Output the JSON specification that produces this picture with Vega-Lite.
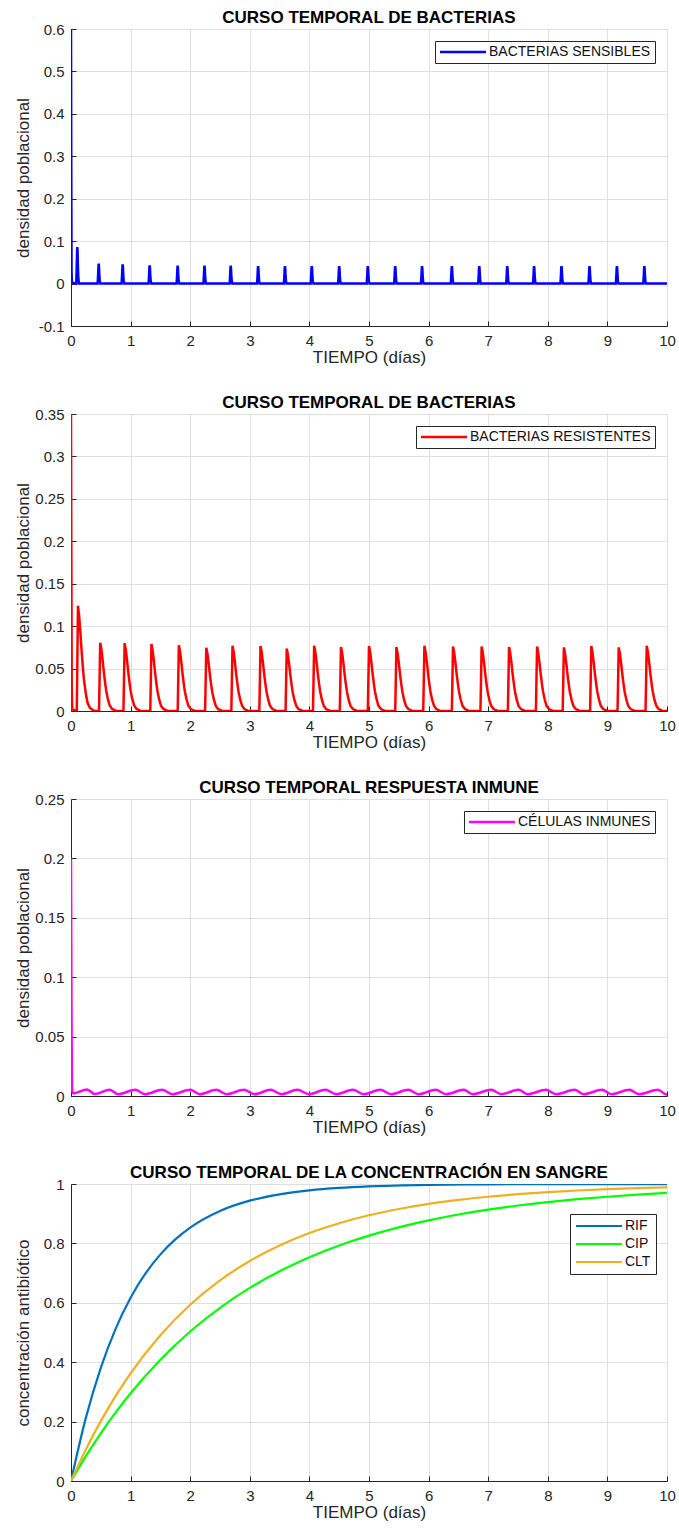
{
"$schema":"https://vega.github.io/schema/vega-lite/v6.json",
"background":"white",
"padding":{"left":14,"top":9,"right":5,"bottom":5},
"columns":1,
"spacing":29,
"config":{
 "font":"Liberation Sans",
 "view":{"stroke":null},
 "axis":{"domainColor":"#262626","domainWidth":1,"tickColor":"#262626","tickSize":-5,"labelPadding":12,"labelColor":"#262626","labelFontSize":15,"labelFont":"Liberation Sans","titleFont":"Liberation Sans","titleFontSize":17,"titleFontWeight":"normal","titleColor":"#262626","titlePadding":1,"gridColor":"#dfdfdf","gridWidth":1,"labelFlush":false,"labelOverlap":false,"labelBound":false},
 "title":{"fontSize":17,"fontWeight":"bold","color":"#000000","font":"Liberation Sans","baseline":"alphabetic","offset":-5,"frame":"group","anchor":"middle"},
 "legend":{"title":null,"fillColor":"white","strokeColor":"#262626","padding":4,"labelFontSize":14,"labelFont":"Liberation Sans","labelColor":"#111111","labelLimit":500,"symbolType":"M-4,0H4","symbolSize":132,"symbolStrokeWidth":2.5,"symbolOffset":17,"labelOffset":19}
},
"resolve":{"scale":{"color":"independent"},"legend":{"color":"independent"}},
"datasets":{
"p1":[{"t":0,"v":0.6},{"t":0.004,"v":0.3},{"t":0.009,"v":0.03},{"t":0.015,"v":0.002},{"t":0.088,"v":0},
{"t":0.096,"v":0.0387},{"t":0.102,"v":0.0774},{"t":0.106,"v":0.086},{"t":0.11,"v":0.0774},{"t":0.116,"v":0.0387},{"t":0.124,"v":0.0103},{"t":0.134,"v":0},
{"t":0.447,"v":0},{"t":0.455,"v":0.0212},{"t":0.461,"v":0.0423},{"t":0.465,"v":0.047},{"t":0.469,"v":0.0423},{"t":0.475,"v":0.0212},{"t":0.483,"v":0.0056},{"t":0.493,"v":0},
{"t":0.849,"v":0},{"t":0.857,"v":0.0203},{"t":0.863,"v":0.0405},{"t":0.867,"v":0.045},{"t":0.871,"v":0.0405},{"t":0.877,"v":0.0203},{"t":0.885,"v":0.0054},{"t":0.895,"v":0},
{"t":1.302,"v":0},{"t":1.31,"v":0.0194},{"t":1.316,"v":0.0387},{"t":1.32,"v":0.043},{"t":1.324,"v":0.0387},{"t":1.33,"v":0.0194},{"t":1.338,"v":0.0052},{"t":1.348,"v":0},
{"t":1.772,"v":0},{"t":1.78,"v":0.0189},{"t":1.786,"v":0.0378},{"t":1.79,"v":0.042},{"t":1.794,"v":0.0378},{"t":1.8,"v":0.0189},{"t":1.808,"v":0.005},{"t":1.818,"v":0},
{"t":2.222,"v":0},{"t":2.23,"v":0.0189},{"t":2.236,"v":0.0378},{"t":2.24,"v":0.042},{"t":2.244,"v":0.0378},{"t":2.25,"v":0.0189},{"t":2.258,"v":0.005},{"t":2.268,"v":0},
{"t":2.662,"v":0},{"t":2.67,"v":0.0189},{"t":2.676,"v":0.0378},{"t":2.68,"v":0.042},{"t":2.684,"v":0.0378},{"t":2.69,"v":0.0189},{"t":2.698,"v":0.005},{"t":2.708,"v":0},
{"t":3.122,"v":0},{"t":3.13,"v":0.0185},{"t":3.136,"v":0.0369},{"t":3.14,"v":0.041},{"t":3.144,"v":0.0369},{"t":3.15,"v":0.0185},{"t":3.158,"v":0.0049},{"t":3.168,"v":0},
{"t":3.572,"v":0},{"t":3.58,"v":0.0185},{"t":3.586,"v":0.0369},{"t":3.59,"v":0.041},{"t":3.594,"v":0.0369},{"t":3.6,"v":0.0185},{"t":3.608,"v":0.0049},{"t":3.618,"v":0},
{"t":4.022,"v":0},{"t":4.03,"v":0.0185},{"t":4.036,"v":0.0369},{"t":4.04,"v":0.041},{"t":4.044,"v":0.0369},{"t":4.05,"v":0.0185},{"t":4.058,"v":0.0049},{"t":4.068,"v":0},
{"t":4.482,"v":0},{"t":4.49,"v":0.0185},{"t":4.496,"v":0.0369},{"t":4.5,"v":0.041},{"t":4.504,"v":0.0369},{"t":4.51,"v":0.0185},{"t":4.518,"v":0.0049},{"t":4.528,"v":0},
{"t":4.962,"v":0},{"t":4.97,"v":0.0185},{"t":4.976,"v":0.0369},{"t":4.98,"v":0.041},{"t":4.984,"v":0.0369},{"t":4.99,"v":0.0185},{"t":4.998,"v":0.0049},{"t":5.008,"v":0},
{"t":5.422,"v":0},{"t":5.43,"v":0.0185},{"t":5.436,"v":0.0369},{"t":5.44,"v":0.041},{"t":5.444,"v":0.0369},{"t":5.45,"v":0.0185},{"t":5.458,"v":0.0049},{"t":5.468,"v":0},
{"t":5.872,"v":0},{"t":5.88,"v":0.0185},{"t":5.886,"v":0.0369},{"t":5.89,"v":0.041},{"t":5.894,"v":0.0369},{"t":5.9,"v":0.0185},{"t":5.908,"v":0.0049},{"t":5.918,"v":0},
{"t":6.372,"v":0},{"t":6.38,"v":0.0185},{"t":6.386,"v":0.0369},{"t":6.39,"v":0.041},{"t":6.394,"v":0.0369},{"t":6.4,"v":0.0185},{"t":6.408,"v":0.0049},{"t":6.418,"v":0},
{"t":6.832,"v":0},{"t":6.84,"v":0.0185},{"t":6.846,"v":0.0369},{"t":6.85,"v":0.041},{"t":6.854,"v":0.0369},{"t":6.86,"v":0.0185},{"t":6.868,"v":0.0049},{"t":6.878,"v":0},
{"t":7.302,"v":0},{"t":7.31,"v":0.0185},{"t":7.316,"v":0.0369},{"t":7.32,"v":0.041},{"t":7.324,"v":0.0369},{"t":7.33,"v":0.0185},{"t":7.338,"v":0.0049},{"t":7.348,"v":0},
{"t":7.752,"v":0},{"t":7.76,"v":0.0185},{"t":7.766,"v":0.0369},{"t":7.77,"v":0.041},{"t":7.774,"v":0.0369},{"t":7.78,"v":0.0185},{"t":7.788,"v":0.0049},{"t":7.798,"v":0},
{"t":8.212,"v":0},{"t":8.22,"v":0.0185},{"t":8.226,"v":0.0369},{"t":8.23,"v":0.041},{"t":8.234,"v":0.0369},{"t":8.24,"v":0.0185},{"t":8.248,"v":0.0049},{"t":8.258,"v":0},
{"t":8.682,"v":0},{"t":8.69,"v":0.0185},{"t":8.696,"v":0.0369},{"t":8.7,"v":0.041},{"t":8.704,"v":0.0369},{"t":8.71,"v":0.0185},{"t":8.718,"v":0.0049},{"t":8.728,"v":0},
{"t":9.142,"v":0},{"t":9.15,"v":0.0185},{"t":9.156,"v":0.0369},{"t":9.16,"v":0.041},{"t":9.164,"v":0.0369},{"t":9.17,"v":0.0185},{"t":9.178,"v":0.0049},{"t":9.188,"v":0},
{"t":9.602,"v":0},{"t":9.61,"v":0.0185},{"t":9.616,"v":0.0369},{"t":9.62,"v":0.041},{"t":9.624,"v":0.0369},{"t":9.63,"v":0.0185},{"t":9.638,"v":0.0049},{"t":9.648,"v":0},
{"t":10,"v":0}],
"p2":[{"t":0,"v":0.35},{"t":0.006,"v":0.18},{"t":0.012,"v":0.03},{"t":0.02,"v":0.002},{"t":0.097,"v":0},
{"t":0.109,"v":0.0744},{"t":0.117,"v":0.124},{"t":0.137,"v":0.1116},{"t":0.157,"v":0.093},{"t":0.177,"v":0.0719},{"t":0.197,"v":0.0533},{"t":0.217,"v":0.0372},{"t":0.247,"v":0.0211},{"t":0.277,"v":0.0099},{"t":0.317,"v":0.0037},{"t":0.377,"v":0.0006},{"t":0.417,"v":0},
{"t":0.47,"v":0},{"t":0.482,"v":0.0483},{"t":0.49,"v":0.0805},{"t":0.51,"v":0.0725},{"t":0.53,"v":0.0604},{"t":0.55,"v":0.0467},{"t":0.57,"v":0.0346},{"t":0.59,"v":0.0242},{"t":0.62,"v":0.0137},{"t":0.65,"v":0.0064},{"t":0.69,"v":0.0024},{"t":0.75,"v":0.0004},{"t":0.79,"v":0},
{"t":0.88,"v":0},{"t":0.892,"v":0.048},{"t":0.9,"v":0.08},{"t":0.92,"v":0.072},{"t":0.94,"v":0.06},{"t":0.96,"v":0.0464},{"t":0.98,"v":0.0344},{"t":1.0,"v":0.024},{"t":1.03,"v":0.0136},{"t":1.06,"v":0.0064},{"t":1.1,"v":0.0024},{"t":1.16,"v":0.0004},{"t":1.2,"v":0},
{"t":1.33,"v":0},{"t":1.342,"v":0.0474},{"t":1.35,"v":0.079},{"t":1.37,"v":0.0711},{"t":1.39,"v":0.0593},{"t":1.41,"v":0.0458},{"t":1.43,"v":0.034},{"t":1.45,"v":0.0237},{"t":1.48,"v":0.0134},{"t":1.51,"v":0.0063},{"t":1.55,"v":0.0024},{"t":1.61,"v":0.0004},{"t":1.65,"v":0},
{"t":1.79,"v":0},{"t":1.802,"v":0.0465},{"t":1.81,"v":0.0775},{"t":1.83,"v":0.0698},{"t":1.85,"v":0.0581},{"t":1.87,"v":0.045},{"t":1.89,"v":0.0333},{"t":1.91,"v":0.0233},{"t":1.94,"v":0.0132},{"t":1.97,"v":0.0062},{"t":2.01,"v":0.0023},{"t":2.07,"v":0.0004},{"t":2.11,"v":0},
{"t":2.25,"v":0},{"t":2.262,"v":0.0447},{"t":2.27,"v":0.0745},{"t":2.29,"v":0.0671},{"t":2.31,"v":0.0559},{"t":2.33,"v":0.0432},{"t":2.35,"v":0.032},{"t":2.37,"v":0.0224},{"t":2.4,"v":0.0127},{"t":2.43,"v":0.006},{"t":2.47,"v":0.0022},{"t":2.53,"v":0.0004},{"t":2.57,"v":0},
{"t":2.69,"v":0},{"t":2.702,"v":0.0462},{"t":2.71,"v":0.077},{"t":2.73,"v":0.0693},{"t":2.75,"v":0.0578},{"t":2.77,"v":0.0447},{"t":2.79,"v":0.0331},{"t":2.81,"v":0.0231},{"t":2.84,"v":0.0131},{"t":2.87,"v":0.0062},{"t":2.91,"v":0.0023},{"t":2.97,"v":0.0004},{"t":3.01,"v":0},
{"t":3.16,"v":0},{"t":3.172,"v":0.0459},{"t":3.18,"v":0.0765},{"t":3.2,"v":0.0689},{"t":3.22,"v":0.0574},{"t":3.24,"v":0.0444},{"t":3.26,"v":0.0329},{"t":3.28,"v":0.023},{"t":3.31,"v":0.013},{"t":3.34,"v":0.0061},{"t":3.38,"v":0.0023},{"t":3.44,"v":0.0004},{"t":3.48,"v":0},
{"t":3.6,"v":0},{"t":3.612,"v":0.0441},{"t":3.62,"v":0.0735},{"t":3.64,"v":0.0662},{"t":3.66,"v":0.0551},{"t":3.68,"v":0.0426},{"t":3.7,"v":0.0316},{"t":3.72,"v":0.0221},{"t":3.75,"v":0.0125},{"t":3.78,"v":0.0059},{"t":3.82,"v":0.0022},{"t":3.88,"v":0.0004},{"t":3.92,"v":0},
{"t":4.06,"v":0},{"t":4.072,"v":0.0462},{"t":4.08,"v":0.077},{"t":4.1,"v":0.0693},{"t":4.12,"v":0.0578},{"t":4.14,"v":0.0447},{"t":4.16,"v":0.0331},{"t":4.18,"v":0.0231},{"t":4.21,"v":0.0131},{"t":4.24,"v":0.0062},{"t":4.28,"v":0.0023},{"t":4.34,"v":0.0004},{"t":4.38,"v":0},
{"t":4.51,"v":0},{"t":4.522,"v":0.0453},{"t":4.53,"v":0.0755},{"t":4.55,"v":0.068},{"t":4.57,"v":0.0566},{"t":4.59,"v":0.0438},{"t":4.61,"v":0.0325},{"t":4.63,"v":0.0227},{"t":4.66,"v":0.0128},{"t":4.69,"v":0.006},{"t":4.73,"v":0.0023},{"t":4.79,"v":0.0004},{"t":4.83,"v":0},
{"t":4.98,"v":0},{"t":4.992,"v":0.0459},{"t":5.0,"v":0.0765},{"t":5.02,"v":0.0689},{"t":5.04,"v":0.0574},{"t":5.06,"v":0.0444},{"t":5.08,"v":0.0329},{"t":5.1,"v":0.023},{"t":5.13,"v":0.013},{"t":5.16,"v":0.0061},{"t":5.2,"v":0.0023},{"t":5.26,"v":0.0004},{"t":5.3,"v":0},
{"t":5.44,"v":0},{"t":5.452,"v":0.0453},{"t":5.46,"v":0.0755},{"t":5.48,"v":0.068},{"t":5.5,"v":0.0566},{"t":5.52,"v":0.0438},{"t":5.54,"v":0.0325},{"t":5.56,"v":0.0227},{"t":5.59,"v":0.0128},{"t":5.62,"v":0.006},{"t":5.66,"v":0.0023},{"t":5.72,"v":0.0004},{"t":5.76,"v":0},
{"t":5.91,"v":0},{"t":5.922,"v":0.0462},{"t":5.93,"v":0.077},{"t":5.95,"v":0.0693},{"t":5.97,"v":0.0578},{"t":5.99,"v":0.0447},{"t":6.01,"v":0.0331},{"t":6.03,"v":0.0231},{"t":6.06,"v":0.0131},{"t":6.09,"v":0.0062},{"t":6.13,"v":0.0023},{"t":6.19,"v":0.0004},{"t":6.23,"v":0},
{"t":6.39,"v":0},{"t":6.402,"v":0.0456},{"t":6.41,"v":0.076},{"t":6.43,"v":0.0684},{"t":6.45,"v":0.057},{"t":6.47,"v":0.0441},{"t":6.49,"v":0.0327},{"t":6.51,"v":0.0228},{"t":6.54,"v":0.0129},{"t":6.57,"v":0.0061},{"t":6.61,"v":0.0023},{"t":6.67,"v":0.0004},{"t":6.71,"v":0},
{"t":6.87,"v":0},{"t":6.882,"v":0.0456},{"t":6.89,"v":0.076},{"t":6.91,"v":0.0684},{"t":6.93,"v":0.057},{"t":6.95,"v":0.0441},{"t":6.97,"v":0.0327},{"t":6.99,"v":0.0228},{"t":7.02,"v":0.0129},{"t":7.05,"v":0.0061},{"t":7.09,"v":0.0023},{"t":7.15,"v":0.0004},{"t":7.19,"v":0},
{"t":7.33,"v":0},{"t":7.342,"v":0.0453},{"t":7.35,"v":0.0755},{"t":7.37,"v":0.068},{"t":7.39,"v":0.0566},{"t":7.41,"v":0.0438},{"t":7.43,"v":0.0325},{"t":7.45,"v":0.0227},{"t":7.48,"v":0.0128},{"t":7.51,"v":0.006},{"t":7.55,"v":0.0023},{"t":7.61,"v":0.0004},{"t":7.65,"v":0},
{"t":7.8,"v":0},{"t":7.812,"v":0.0456},{"t":7.82,"v":0.076},{"t":7.84,"v":0.0684},{"t":7.86,"v":0.057},{"t":7.88,"v":0.0441},{"t":7.9,"v":0.0327},{"t":7.92,"v":0.0228},{"t":7.95,"v":0.0129},{"t":7.98,"v":0.0061},{"t":8.02,"v":0.0023},{"t":8.08,"v":0.0004},{"t":8.12,"v":0},
{"t":8.25,"v":0},{"t":8.262,"v":0.045},{"t":8.27,"v":0.075},{"t":8.29,"v":0.0675},{"t":8.31,"v":0.0563},{"t":8.33,"v":0.0435},{"t":8.35,"v":0.0323},{"t":8.37,"v":0.0225},{"t":8.4,"v":0.0128},{"t":8.43,"v":0.006},{"t":8.47,"v":0.0023},{"t":8.53,"v":0.0004},{"t":8.57,"v":0},
{"t":8.71,"v":0},{"t":8.722,"v":0.0459},{"t":8.73,"v":0.0765},{"t":8.75,"v":0.0689},{"t":8.77,"v":0.0574},{"t":8.79,"v":0.0444},{"t":8.81,"v":0.0329},{"t":8.83,"v":0.023},{"t":8.86,"v":0.013},{"t":8.89,"v":0.0061},{"t":8.93,"v":0.0023},{"t":8.99,"v":0.0004},{"t":9.03,"v":0},
{"t":9.17,"v":0},{"t":9.182,"v":0.045},{"t":9.19,"v":0.075},{"t":9.21,"v":0.0675},{"t":9.23,"v":0.0563},{"t":9.25,"v":0.0435},{"t":9.27,"v":0.0323},{"t":9.29,"v":0.0225},{"t":9.32,"v":0.0128},{"t":9.35,"v":0.006},{"t":9.39,"v":0.0023},{"t":9.45,"v":0.0004},{"t":9.49,"v":0},
{"t":9.64,"v":0},{"t":9.652,"v":0.0462},{"t":9.66,"v":0.077},{"t":9.68,"v":0.0693},{"t":9.7,"v":0.0578},{"t":9.72,"v":0.0447},{"t":9.74,"v":0.0331},{"t":9.76,"v":0.0231},{"t":9.79,"v":0.0131},{"t":9.82,"v":0.0062},{"t":9.86,"v":0.0023},{"t":9.92,"v":0.0004},{"t":9.96,"v":0},{"t":10,"v":0}],
"p3":[{"t":0,"v":0.2},{"t":0.005,"v":0.12},{"t":0.01,"v":0.05},{"t":0.015,"v":0.015},{"t":0.022,"v":0.004},{"t":0.04,"v":0.0022},
{"t":0.27,"v":0.0055},{"t":0.4,"v":0.0016},{"t":0.65,"v":0.0053},{"t":0.79,"v":0.0015},{"t":1.08,"v":0.0052},{"t":1.24,"v":0.0015},{"t":1.53,"v":0.0052},{"t":1.7,"v":0.0015},{"t":2.0,"v":0.0052},{"t":2.16,"v":0.0015},{"t":2.44,"v":0.0052},{"t":2.61,"v":0.0015},{"t":2.9,"v":0.0052},{"t":3.08,"v":0.0015},{"t":3.35,"v":0.0052},{"t":3.53,"v":0.0015},{"t":3.8,"v":0.0052},{"t":3.99,"v":0.0015},{"t":4.27,"v":0.0052},{"t":4.45,"v":0.0015},{"t":4.73,"v":0.0052},{"t":4.91,"v":0.0015},{"t":5.19,"v":0.0052},{"t":5.37,"v":0.0015},{"t":5.66,"v":0.0052},{"t":5.83,"v":0.0015},{"t":6.12,"v":0.0052},{"t":6.29,"v":0.0015},{"t":6.59,"v":0.0052},{"t":6.74,"v":0.0015},{"t":7.05,"v":0.0052},{"t":7.22,"v":0.0015},{"t":7.51,"v":0.0052},{"t":7.66,"v":0.0015},{"t":7.97,"v":0.0052},{"t":8.14,"v":0.0015},{"t":8.45,"v":0.0052},{"t":8.6,"v":0.0015},{"t":8.91,"v":0.0052},{"t":9.07,"v":0.0015},{"t":9.37,"v":0.0052},{"t":9.53,"v":0.0015},{"t":9.85,"v":0.0052},{"t":9.99,"v":0.0013},{"t":10,"v":0.0013}],
"p4":[
{"s":"RIF","t":0,"v":0},{"s":"RIF","t":0.25,"v":0.2134},{"s":"RIF","t":0.5,"v":0.3812},{"s":"RIF","t":0.75,"v":0.5132},{"s":"RIF","t":1,"v":0.6171},{"s":"RIF","t":1.25,"v":0.6988},{"s":"RIF","t":1.5,"v":0.7631},{"s":"RIF","t":1.75,"v":0.8136},{"s":"RIF","t":2,"v":0.8534},{"s":"RIF","t":2.5,"v":0.9093},{"s":"RIF","t":3,"v":0.9439},{"s":"RIF","t":3.5,"v":0.9653},{"s":"RIF","t":4,"v":0.9785},{"s":"RIF","t":4.5,"v":0.9867},{"s":"RIF","t":5,"v":0.9918},{"s":"RIF","t":6,"v":0.9969},{"s":"RIF","t":7,"v":0.9988},{"s":"RIF","t":8,"v":0.9995},{"s":"RIF","t":9,"v":0.9998},{"s":"RIF","t":10,"v":0.9999},
{"s":"CIP","t":0,"v":0},{"s":"CIP","t":0.25,"v":0.0838},{"s":"CIP","t":0.5,"v":0.1605},{"s":"CIP","t":0.75,"v":0.2309},{"s":"CIP","t":1,"v":0.2953},{"s":"CIP","t":1.5,"v":0.4084},{"s":"CIP","t":2,"v":0.5034},{"s":"CIP","t":2.5,"v":0.5831},{"s":"CIP","t":3,"v":0.6501},{"s":"CIP","t":3.5,"v":0.7062},{"s":"CIP","t":4,"v":0.7534},{"s":"CIP","t":4.5,"v":0.793},{"s":"CIP","t":5,"v":0.8262},{"s":"CIP","t":5.5,"v":0.8541},{"s":"CIP","t":6,"v":0.8775},{"s":"CIP","t":6.5,"v":0.8972},{"s":"CIP","t":7,"v":0.9137},{"s":"CIP","t":7.5,"v":0.9276},{"s":"CIP","t":8,"v":0.9392},{"s":"CIP","t":8.5,"v":0.949},{"s":"CIP","t":9,"v":0.9571},{"s":"CIP","t":9.5,"v":0.964},{"s":"CIP","t":10,"v":0.9698},
{"s":"CLT","t":0,"v":0},{"s":"CLT","t":0.25,"v":0.1064},{"s":"CLT","t":0.5,"v":0.2015},{"s":"CLT","t":0.75,"v":0.2864},{"s":"CLT","t":1,"v":0.3624},{"s":"CLT","t":1.5,"v":0.4908},{"s":"CLT","t":2,"v":0.5934},{"s":"CLT","t":2.5,"v":0.6753},{"s":"CLT","t":3,"v":0.7408},{"s":"CLT","t":3.5,"v":0.793},{"s":"CLT","t":4,"v":0.8347},{"s":"CLT","t":4.5,"v":0.868},{"s":"CLT","t":5,"v":0.8946},{"s":"CLT","t":5.5,"v":0.9158},{"s":"CLT","t":6,"v":0.9328},{"s":"CLT","t":6.5,"v":0.9463},{"s":"CLT","t":7,"v":0.9571},{"s":"CLT","t":7.5,"v":0.9658},{"s":"CLT","t":8,"v":0.9727},{"s":"CLT","t":8.5,"v":0.9782},{"s":"CLT","t":9,"v":0.9826},{"s":"CLT","t":9.5,"v":0.9861},{"s":"CLT","t":10,"v":0.9889}]
},
"concat":[
{"width":596,"height":297,"title":"CURSO TEMPORAL DE BACTERIAS","data":{"name":"p1"},
 "mark":{"type":"line","strokeWidth":2.5,"clip":true},
 "encoding":{
  "x":{"field":"t","type":"quantitative","scale":{"domain":[0,10],"nice":false},"axis":{"values":[0,1,2,3,4,5,6,7,8,9,10],"title":"TIEMPO (días)"}},
  "y":{"field":"v","type":"quantitative","scale":{"domain":[-0.1,0.6],"nice":false,"zero":false},"axis":{"values":[-0.1,0,0.1,0.2,0.3,0.4,0.5,0.6],"title":"densidad poblacional","titleX":-38.5,"labelExpr":"datum.value < 0 ? '-' + format(-datum.value, '~g') : format(datum.value, '~g')"}},
  "color":{"datum":"BACTERIAS SENSIBLES","type":"nominal","scale":{"range":["#0000ff"]},"legend":{"orient":"top-right","offset":12}}
 }},
{"width":596,"height":297,"title":"CURSO TEMPORAL DE BACTERIAS","data":{"name":"p2"},
 "mark":{"type":"line","strokeWidth":2.5,"clip":true},
 "encoding":{
  "x":{"field":"t","type":"quantitative","scale":{"domain":[0,10],"nice":false},"axis":{"values":[0,1,2,3,4,5,6,7,8,9,10],"title":"TIEMPO (días)"}},
  "y":{"field":"v","type":"quantitative","scale":{"domain":[0,0.35],"nice":false},"axis":{"values":[0,0.05,0.1,0.15,0.2,0.25,0.3,0.35],"title":"densidad poblacional","titleX":-38.5,"labelExpr":"format(datum.value, '~g')"}},
  "color":{"datum":"BACTERIAS RESISTENTES","type":"nominal","scale":{"range":["#ff0000"]},"legend":{"orient":"top-right","offset":12}}
 }},
{"width":596,"height":297,"title":"CURSO TEMPORAL RESPUESTA INMUNE","data":{"name":"p3"},
 "mark":{"type":"line","strokeWidth":2.5,"clip":true,"interpolate":"monotone"},
 "encoding":{
  "x":{"field":"t","type":"quantitative","scale":{"domain":[0,10],"nice":false},"axis":{"values":[0,1,2,3,4,5,6,7,8,9,10],"title":"TIEMPO (días)"}},
  "y":{"field":"v","type":"quantitative","scale":{"domain":[0,0.25],"nice":false},"axis":{"values":[0,0.05,0.1,0.15,0.2,0.25],"title":"densidad poblacional","titleX":-38.5,"labelExpr":"format(datum.value, '~g')"}},
  "color":{"datum":"CÉLULAS INMUNES","type":"nominal","scale":{"range":["#ff00ff"]},"legend":{"orient":"top-right","offset":12}}
 }},
{"width":596,"height":297,"title":"CURSO TEMPORAL DE LA CONCENTRACIÓN EN SANGRE","data":{"name":"p4"},
 "mark":{"type":"line","strokeWidth":2.2,"clip":true,"interpolate":"monotone"},
 "encoding":{
  "x":{"field":"t","type":"quantitative","scale":{"domain":[0,10],"nice":false},"axis":{"values":[0,1,2,3,4,5,6,7,8,9,10],"title":"TIEMPO (días)"}},
  "y":{"field":"v","type":"quantitative","scale":{"domain":[0,1],"nice":false},"axis":{"values":[0,0.2,0.4,0.6,0.8,1],"title":"concentración antibiótico","titleX":-38.5,"labelExpr":"format(datum.value, '~g')"}},
  "color":{"field":"s","type":"nominal","scale":{"domain":["RIF","CIP","CLT"],"range":["#0072bd","#00ff00","#edb120"]},"legend":{"orient":"none","legendX":499,"legendY":30,"padding":5,"rowPadding":4,"symbolStrokeWidth":2.2}}
 }}
]
}
